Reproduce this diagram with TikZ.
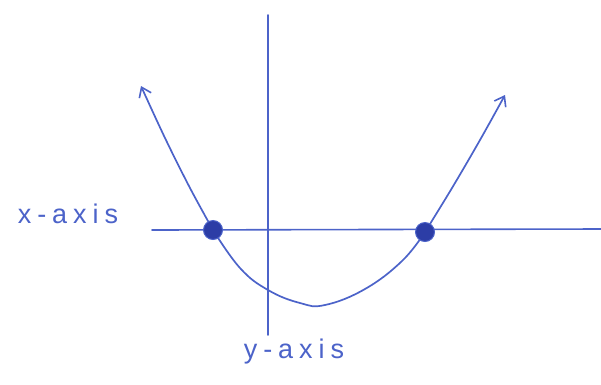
\documentclass[tikz,border=0pt]{standalone}
\usepackage{fontspec}
\setmainfont{Liberation Sans}
\usetikzlibrary{arrows.meta}
\definecolor{pen}{HTML}{4C63C9}
\definecolor{ink}{HTML}{2C3DA6}
\begin{document}
\begin{tikzpicture}[x=1pt,y=-1pt,
  axisline/.style={pen,line width=1.6pt,line cap=round},
  curveline/.style={pen,line width=1.7pt,line cap=round},
  tipped/.style={-{Straight Barb[length=9pt,width=13pt,line width=1.6pt]}},
  rootdot/.style={circle,fill=ink,draw=pen,line width=1pt,minimum size=19pt,inner sep=0pt},
  lbl/.style={pen,font=\fontsize{27}{27}\selectfont\addfontfeatures{LetterSpace=22}}]
\useasboundingbox (0,0) rectangle (601,384);
\coordinate (xl) at (152,230);
\coordinate (xr) at (601,229);
\coordinate (yt) at (268,15);
\coordinate (yb) at (268,335);
\draw[axisline] (xl) -- (xr);
\draw[axisline] (yt) -- (yb);
\draw[curveline,tipped] plot[smooth,tension=0.6] coordinates {(213,230) (190,188) (165,138) (141,86)};
\draw[curveline] plot[smooth,tension=0.7] coordinates {(213,230) (240,268) (268,290) (300,303) (325,305) (365,289) (402,261) (425,232)};
\draw[curveline,tipped] plot[smooth,tension=0.6] coordinates {(425,232) (452,188) (480,140) (505,95)};
\node[rootdot] (r1) at (213,230) {};
\node[rootdot] (r2) at (425,232) {};
\node[lbl] (xlab) at (68,214) {x-axis};
\node[lbl] (ylab) at (294,352) {y-axis};
\end{tikzpicture}
\end{document}
